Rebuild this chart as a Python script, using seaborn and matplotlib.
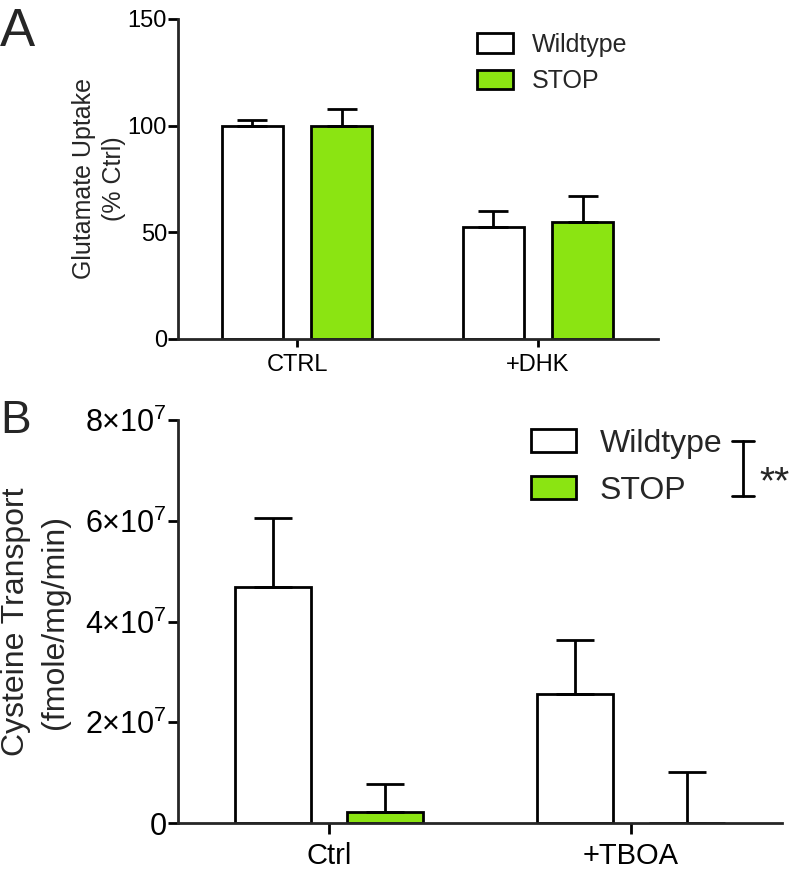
import numpy as np
import pandas as pd
import matplotlib
matplotlib.use("Agg")
import matplotlib.pyplot as plt
import seaborn as sns

# -----------------------------------------------------
# Datos
# -----------------------------------------------------
genotypes = ["Wildtype", "STOP"]

# Panel A - captacion de glutamato (% Ctrl)
cond_a = ["CTRL", "+DHK"]
uptake_wt = [100.0, 52.5]
uptake_stop = [100.0, 54.8]
uptake_wt_err = [2.5, 7.5]
uptake_stop_err = [8.0, 12.0]

# Panel B - transporte de cisteina (fmole/mg/min)
cond_b = ["Ctrl", "+TBOA"]
cys_wt = [4.68e7, 2.56e7]
cys_stop = [0.22e7, 0.0]
cys_wt_err = [1.37e7, 1.07e7]
cys_stop_err = [0.55e7, 1.01e7]

green = "#8BE412"
palette = {"Wildtype": "white", "STOP": green}

# -----------------------------------------------------
# Estilo
# -----------------------------------------------------
sns.set_style("ticks")
plt.rcParams["font.family"] = ["Liberation Sans", "DejaVu Sans"]
plt.rcParams["mathtext.fontset"] = "custom"
plt.rcParams["mathtext.rm"] = "Liberation Sans"
plt.rcParams["axes.linewidth"] = 2


def tabla(conds, wt, stop):
    return pd.DataFrame({
        "cond": conds * 2,
        "geno": [genotypes[0]] * len(conds) + [genotypes[1]] * len(conds),
        "val": list(wt) + list(stop),
    })


def dibujar(ax, df, conds, errs, capsize):
    sns.barplot(data=df, x="cond", y="val", hue="geno", order=conds,
                hue_order=genotypes, palette=palette, saturation=1,
                edgecolor="black", linewidth=2, width=0.74, gap=0.32,
                errorbar=None, legend=False, ax=ax)
    for cont, err in zip(ax.containers, errs):
        xs = [b.get_x() + b.get_width() / 2 for b in cont]
        hs = [b.get_height() for b in cont]
        ax.errorbar(xs, hs, yerr=[np.zeros(len(err)), err], fmt="none",
                    ecolor="black", elinewidth=2, capsize=capsize,
                    capthick=2)
    sns.despine(ax=ax)
    ax.set_xlabel("")
    ax.tick_params(axis="both", width=2, colors="black")
    return list(ax.containers)


fig = plt.figure(figsize=(7.93, 8.75), dpi=100)

# -----------------------------------------------------
# Panel A
# -----------------------------------------------------
ax_a = fig.add_axes([0.2245, 0.6126, 0.6053, 0.3657])
df_a = tabla(cond_a, uptake_wt, uptake_stop)
hand_a = dibujar(ax_a, df_a, cond_a, [uptake_wt_err, uptake_stop_err], 11)
ax_a.set_xlim(-0.494, 1.498)
ax_a.set_ylim(0, 150)
ax_a.set_yticks([0, 50, 100, 150])
ax_a.tick_params(axis="y", length=7, pad=1, labelsize=17)
ax_a.tick_params(axis="x", length=6, pad=5, labelsize=17)
ax_a.set_ylabel("Glutamate Uptake\n(% Ctrl)", fontsize=18, linespacing=1.35)
ax_a.yaxis.set_label_coords(-0.108, 0.5)
ax_a.legend(hand_a, genotypes, frameon=False, fontsize=18, loc="upper left",
            bbox_to_anchor=(0.622, 0.957), borderpad=0, borderaxespad=0,
            handlelength=1.44, handleheight=0.8, handletextpad=0.76,
            labelspacing=0.51)

# -----------------------------------------------------
# Panel B
# -----------------------------------------------------
ax_b = fig.add_axes([0.2245, 0.0594, 0.7617, 0.4606])
df_b = tabla(cond_b, cys_wt, cys_stop)
hand_b = dibujar(ax_b, df_b, cond_b, [cys_wt_err, cys_stop_err], 14)
ax_b.set_xlim(-0.5, 1.5)
ax_b.set_ylim(0, 8e7)
ax_b.set_yticks([0, 2e7, 4e7, 6e7, 8e7])


def fmt_sci(v, pos):
    if v == 0:
        return "0"
    return r"$\mathregular{%d{\times}10^{7}}$" % round(v / 1e7)


ax_b.yaxis.set_major_formatter(plt.FuncFormatter(fmt_sci))
ax_b.tick_params(axis="y", length=7, pad=1, labelsize=22)
ax_b.tick_params(axis="x", length=8, pad=6, labelsize=21)
ax_b.set_ylabel("Cysteine Transport\n(fmole/mg/min)", fontsize=23,
                linespacing=1.4)
ax_b.yaxis.set_label_coords(-0.179, 0.5)
ax_b.legend(hand_b, genotypes, frameon=False, fontsize=23, loc="upper left",
            bbox_to_anchor=(0.584, 0.978), borderpad=0, borderaxespad=0,
            handlelength=1.4, handleheight=0.72, handletextpad=0.75,
            labelspacing=0.53)

# corchete de significancia
bx, by0, by1, bw = 0.935, 0.811, 0.948, 0.018
kw = dict(color="black", lw=2, transform=ax_b.transAxes, clip_on=False)
ax_b.plot([bx, bx], [by0, by1], **kw)
ax_b.plot([bx - bw, bx + bw], [by0, by0], **kw)
ax_b.plot([bx - bw, bx + bw], [by1, by1], **kw)
ax_b.text(0.963, 0.819, "**", transform=ax_b.transAxes, fontsize=28,
          ha="left", va="baseline")

# letras de panel
fig.text(0.0, 0.9474, "A", fontsize=38, ha="left", va="baseline")
fig.text(0.0, 0.5051, "B", fontsize=33, ha="left", va="baseline")

fig.savefig("out.png", dpi=100)
